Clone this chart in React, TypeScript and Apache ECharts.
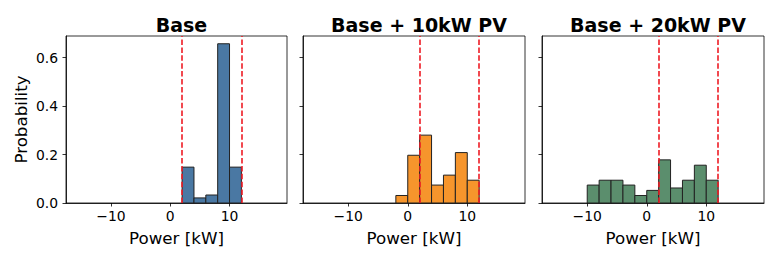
import React, { useEffect, useRef } from "react";
import * as echarts from "echarts";

const titles = ["Base", "Base + 10kW PV", "Base + 20kW PV"];
const binEdgesBase = [2, 4, 6, 8, 10, 12];
const probBase = [0.148, 0.021, 0.033, 0.657, 0.148];
const binEdgesPV10 = [-2, 0, 2, 4, 6, 8, 10, 12];
const probPV10 = [0.031, 0.197, 0.28, 0.074, 0.115, 0.208, 0.094];
const binEdgesPV20 = [-10, -8, -6, -4, -2, 0, 2, 4, 6, 8, 10, 12];
const probPV20 = [0.074, 0.094, 0.094, 0.074, 0.031, 0.052, 0.178, 0.062, 0.094, 0.156, 0.094];
const barColors = ["#4a78a3", "#f6952c", "#5b8e6d"];
const limitLines = [2, 12];
const xTicks = [-10, 0, 10];
const yTicks = [0, 0.2, 0.4, 0.6];
const xRange = [-17.6, 19.7];
const yMax = 0.689;

const panels = [
  { edges: binEdgesBase, probs: probBase },
  { edges: binEdgesPV10, probs: probPV10 },
  { edges: binEdgesPV20, probs: probPV20 },
];

const FONT = "DejaVu Sans";
const gridLayout = [
  { left: 66, width: 221 },
  { left: 303, width: 222 },
  { left: 542, width: 222 },
];

export default function App() {
  const ref = useRef<HTMLDivElement>(null);
  useEffect(() => {
    if (!ref.current) return;
    const chart = echarts.init(ref.current, null, { renderer: "svg" });
    const grids = gridLayout.map((g) => ({
      left: g.left,
      width: g.width,
      top: 36,
      height: 167,
      show: true,
      borderColor: "#000",
      borderWidth: 0.8,
      backgroundColor: "transparent",
    }));
    const xAxes = gridLayout.map((_, i) => ({
      type: "value",
      gridIndex: i,
      min: xRange[0],
      max: xRange[1],
      name: "Power [kW]",
      nameLocation: "middle",
      nameGap: 26,
      nameTextStyle: { fontFamily: FONT, fontSize: 16.7, color: "#000" },
      axisLine: { show: true, onZero: false, lineStyle: { color: "#000", width: 0.8 } },
      axisTick: { show: true, customValues: xTicks, length: 3.5, lineStyle: { color: "#000", width: 0.8 } },
      axisLabel: {
        customValues: xTicks,
        margin: 6,
        fontFamily: FONT,
        fontSize: 13.9,
        color: "#000",
        formatter: (v: number) => (v < 0 ? "\u2212" + Math.abs(v) : String(v)),
      },
      splitLine: { show: false },
    }));
    const yAxes = gridLayout.map((_, i) => ({
      type: "value",
      gridIndex: i,
      min: 0,
      max: yMax,
      name: i === 0 ? "Probability" : "",
      nameLocation: "middle",
      nameGap: 37,
      nameTextStyle: { fontFamily: FONT, fontSize: 16.7, color: "#000" },
      axisLine: { show: true, onZero: false, lineStyle: { color: "#000", width: 0.8 } },
      axisTick: { show: true, customValues: yTicks, length: 3.5, lineStyle: { color: "#000", width: 0.8 } },
      axisLabel: {
        show: i === 0,
        customValues: yTicks,
        margin: 8,
        fontFamily: FONT,
        fontSize: 13.9,
        color: "#000",
        formatter: (v: number) => v.toFixed(1),
      },
      splitLine: { show: false },
    }));
    const series = panels.map((p, i) => ({
      type: "custom",
      xAxisIndex: i,
      yAxisIndex: i,
      data: p.probs.map((v, k) => [p.edges[k], p.edges[k + 1], v]),
      encode: { x: [0, 1], y: 2 },
      renderItem: (params: any, api: any) => {
        const x0 = api.value(0);
        const x1 = api.value(1);
        const y = api.value(2);
        const a = api.coord([x0, y]);
        const b = api.coord([x1, 0]);
        return {
          type: "rect",
          shape: { x: a[0], y: a[1], width: b[0] - a[0], height: b[1] - a[1] },
          style: { fill: barColors[i], stroke: "#222", lineWidth: 1 },
        };
      },
      markLine: {
        silent: true,
        symbol: "none",
        label: { show: false },
        lineStyle: { color: "#ee1c25", width: 1.6, type: [5.5, 2.4] },
        data: limitLines.map((x) => ({ xAxis: x })),
      },
    }));
    const title = gridLayout.map((g, i) => ({
      text: titles[i],
      left: g.left + g.width / 2,
      top: 10,
      textAlign: "center",
      textStyle: { fontFamily: FONT, fontSize: 19, fontWeight: "bold", color: "#000" },
    }));
    chart.setOption({
      animation: false,
      backgroundColor: "#fff",
      title,
      grid: grids,
      xAxis: xAxes,
      yAxis: yAxes,
      series,
    });
    return () => chart.dispose();
  }, []);
  return (
    <div
      ref={ref}
      style={{ position: "fixed", left: 0, top: 0, width: 777, height: 259 }}
    />
  );
}
